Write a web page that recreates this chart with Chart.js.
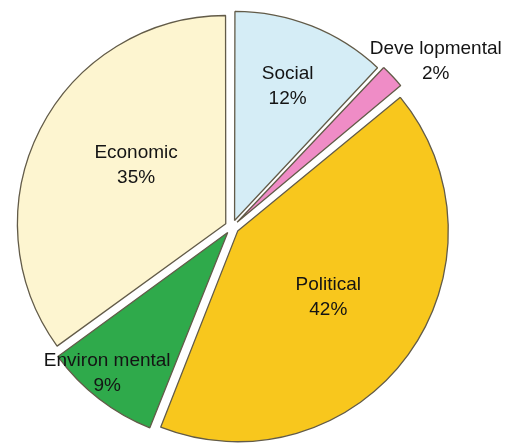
<!DOCTYPE html>
<html lang="en">
<head>
    <meta charset="UTF-8" />
    <title>Dimensions</title>
    <style>
        html, body { margin: 0; padding: 0; background: #fff; }
        #wrap { width: 510px; height: 448px; }
    </style>
</head>
<body>
    <div id="wrap"><canvas id="pieChart" width="510" height="448"></canvas></div>

    <script src="https://cdn.jsdelivr.net/npm/chart.js@4.4.1/dist/chart.umd.min.js"></script>
    <script>
        // slice data, clockwise from 12 o'clock
        const categories = ["Social", "Deve lopmental", "Political", "Environ mental", "Economic"];
        const shares = [12, 2, 42, 9, 35];
        const sliceColors = ["#d5edf6", "#ef8cc6", "#f8c71d", "#2faa4b", "#fdf5d0"];

        // label placement: fraction of radius, angle nudge in degrees
        const labelLayout = [[0.73, 0], [1.27, 4], [0.575, 0], [0.93, 2.6], [0.55, 5.6]];

        const sliceLabels = {
            id: 'sliceLabels',
            afterDatasetsDraw(chart) {
                const ctx = chart.ctx;
                const arcs = chart.getDatasetMeta(0).data;
                ctx.save();
                ctx.font = '19px "Liberation Sans", Arial, sans-serif';
                ctx.fillStyle = '#141414';
                ctx.textAlign = 'center';
                ctx.textBaseline = 'middle';
                arcs.forEach((arc, i) => {
                    const mid = (arc.startAngle + arc.endAngle) / 2 + labelLayout[i][1] * Math.PI / 180;
                    const r = arc.outerRadius * labelLayout[i][0];
                    const x = arc.x + Math.cos(mid) * r;
                    const y = arc.y + Math.sin(mid) * r;
                    ctx.fillText(categories[i], x, y - 12.5);
                    ctx.fillText(shares[i] + '%', x, y + 12.5);
                });
                ctx.restore();
            }
        };

        new Chart(document.getElementById('pieChart').getContext('2d'), {
            type: 'pie',
            data: {
                labels: categories,
                datasets: [{
                    data: shares,
                    backgroundColor: sliceColors,
                    borderColor: '#625b48',
                    borderWidth: 1.3,
                    offset: 28
                }]
            },
            options: {
                responsive: false,
                animation: false,
                radius: 207,
                layout: { padding: { left: 0, right: 46, top: 6, bottom: 0 } },
                plugins: {
                    legend: { display: false },
                    tooltip: { enabled: false }
                }
            },
            plugins: [sliceLabels]
        });
    </script>
</body>
</html>
